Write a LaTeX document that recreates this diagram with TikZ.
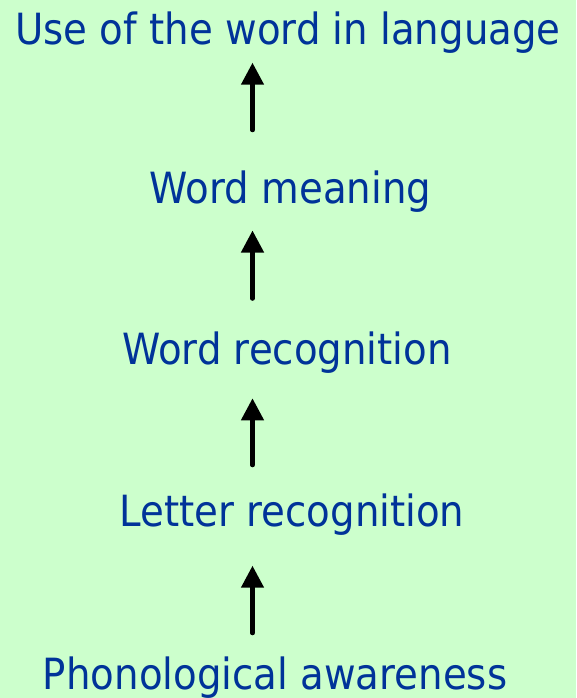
\documentclass[tikz,border=0pt]{standalone}
\usepackage{fontspec}
\setmainfont{DejaVu Sans}[FakeStretch=0.9]
\usetikzlibrary{arrows.meta}
\definecolor{bgGreen}{HTML}{CCFFCC}
\definecolor{labelBlue}{HTML}{003399}
\tikzset{
  level/.style={anchor=base, inner sep=0pt, text=labelBlue,
    font=\fontsize{43}{50}\selectfont},
  uparrow/.style={line width=4.5pt, line cap=round, draw=black,
    -{Triangle[length=22pt,width=22pt]}}
}
\begin{document}
\begin{tikzpicture}[x=1pt,y=-1pt]
  \fill[bgGreen] (0,0) rectangle (576,698);
  \useasboundingbox (0,0) rectangle (576,698);

  % stages, bottom to top
  \node[level] (use)     at (288,45)  {Use of the word in language};
  \node[level] (meaning) at (290.5,203.5) {Word meaning};
  \node[level] (wordrec) at (287,364.5) {Word recognition};
  \node[level] (letter)  at (292,526) {Letter recognition};
  \node[level] (phono)   at (275,689) {Phonological awareness};

  % arrow end points between the stages
  \coordinate (a1s) at (252.5,130);
  \coordinate (a1e) at (252.5,62.7);
  \coordinate (a2s) at (252.5,298.5);
  \coordinate (a2e) at (252.5,230.5);
  \coordinate (a3s) at (252.5,465);
  \coordinate (a3e) at (252.5,398.3);
  \coordinate (a4s) at (252.5,633);
  \coordinate (a4e) at (252.5,565.7);

  \draw[uparrow] (a1s) -- (a1e);
  \draw[uparrow] (a2s) -- (a2e);
  \draw[uparrow] (a3s) -- (a3e);
  \draw[uparrow] (a4s) -- (a4e);
\end{tikzpicture}
\end{document}
